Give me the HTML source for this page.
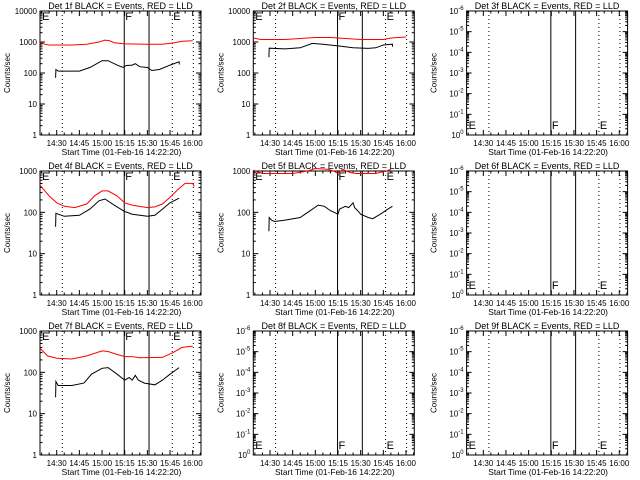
<!DOCTYPE html>
<html><head><meta charset="utf-8"><style>
html,body{margin:0;padding:0;background:#fff}
svg{display:block;font-family:"Liberation Sans",sans-serif}
</style></head><body>
<svg id="c" width="640" height="480"></svg>
<script>
// data: time in minutes after 14:00, values in counts/sec
const p1Red=[[19,1000],[22,850],[25,800],[40,800],[50,850],[58,1000],[62,1150],[65,1100],[68,950],[75,870],[90,850],[100,850],[108,950],[113,1050],[120,1100]];
const p1Black=[[29.3,70],[29.5,130],[31,115],[45,115],[52,150],[60,250],[64,250],[70,180],[74,150],[76,175],[80,180],[82,200],[85,160],[90,150],[93,120],[98,130],[105,180],[111,230],[111.2,190]];
const p2Red=[[19,1350],[24,1200],[40,1200],[50,1300],[60,1400],[70,1400],[80,1300],[90,1200],[105,1200],[110,1350],[120,1450]];
const p2Black=[[29.3,320],[29.5,630],[40,600],[50,650],[58,900],[65,850],[75,750],[85,650],[95,620],[100,650],[105,800],[111,850],[111.2,700]];
const p4Red=[[19,450],[25,250],[30,170],[35,140],[42,130],[50,160],[55,250],[60,330],[64,330],[70,250],[75,170],[80,150],[90,130],[95,135],[100,160],[105,230],[110,350],[115,500],[120,500],[121,420]];
const p4Black=[[29.3,45],[29.5,95],[35,80],[45,85],[52,120],[58,190],[62,210],[68,150],[75,105],[80,90],[85,85],[90,80],[95,85],[100,120],[105,170],[111,220]];
const p5Red=[[19,1050],[22,950],[25,870],[45,870],[55,1000],[60,1150],[68,1100],[72,1000],[75,870],[78,1100],[83,920],[87,870],[100,870],[107,1000],[110,1100]];
const p5Black=[[29.3,35],[29.5,75],[31,65],[33,60],[40,65],[50,75],[55,100],[62,150],[66,140],[70,110],[75,90],[76,120],[80,140],[82,130],[85,170],[86,130],[88,110],[90,90],[95,75],[98,70],[103,90],[108,120],[111,140]];
const p7Red=[[19,380],[24,250],[30,220],[40,210],[50,250],[60,330],[64,320],[70,270],[75,240],[80,240],[85,225],[100,230],[107,300],[113,400],[120,430]];
const p7Black=[[29.3,25],[29.5,60],[31,48],[40,48],[48,55],[53,90],[60,125],[64,130],[70,90],[75,65],[78,75],[80,65],[82,85],[84,65],[88,55],[95,50],[100,65],[105,90],[111,130]];
const timeTicks=[30,45,60,75,90,105,120];
const timeLabels=["14:30","14:45","15:00","15:15","15:30","15:45","16:00"];
const markerTimes=[33.7,74.7,91.1,106.5,120.4];
const markerSolid=[false,true,true,false,false];

const NS="http://www.w3.org/2000/svg";
const svg=document.getElementById('c');
function mk(tag,attrs,parent){const e=document.createElementNS(NS,tag);for(const k in attrs)e.setAttribute(k,attrs[k]);(parent||svg).appendChild(e);return e;}
const T0=18.95,T1=125.5,W=161,H=124;

function panel(col,row,num,decades,red,black){
  const x0=40+col*213.3, y0=11+row*160;
  const g=mk('g',{});
  
  
  const xs=t=>x0+(t-T0)/(T1-T0)*W;
  const blank=!red;
  const ys=v=>y0+H-Math.log10(v)/decades*H;
  const box=mk('rect',{x:x0,y:y0,width:W,height:H,fill:'none',stroke:'#000','stroke-width':1},g);
  
  
  const tt=mk('text',{x:x0+W/2,y:y0-2,'font-size':9,'text-anchor':'middle'},g);
  tt.textContent='Det '+num+'f BLACK = Events, RED = LLD';
  
  
  for(let t=20;t<=125;t+=5){const x=xs(t);const L=(t%15===0)?5:2.5;
    mk('line',{x1:x,x2:x,y1:y0+H,y2:y0+H-L,stroke:'#000'},g);
    mk('line',{x1:x,x2:x,y1:y0,y2:y0+L,stroke:'#000'},g);}
  timeTicks.forEach((t,i)=>{const l=mk('text',{x:xs(t),y:y0+H+11,'font-size':8,'text-anchor':'middle'},g);l.textContent=timeLabels[i];
    
    });
  const xl=mk('text',{x:x0+W/2+1,y:y0+H+20,'font-size':8.4,'text-anchor':'middle'},g);
  xl.textContent='Start Time (01-Feb-16 14:22:20)';
  
  
  const yl=mk('text',{x:0,y:0,'font-size':8,'text-anchor':'middle',transform:`translate(${x0-30},${y0+H/2}) rotate(-90)`},g);
  yl.textContent='Counts/sec';
  
  
  const nd=blank?6:decades;
  const step=H/nd;
  for(let d=0;d<=nd;d++){const y=y0+H-d*step;
    mk('line',{x1:x0,x2:x0+5,y1:y,y2:y,stroke:'#000'},g);
    mk('line',{x1:x0+W,x2:x0+W-5,y1:y,y2:y,stroke:'#000'},g);
    if(d<nd)for(let m=2;m<10;m++){const ym=y-Math.log10(m)*step;
      mk('line',{x1:x0,x2:x0+2.5,y1:ym,y2:ym,stroke:'#000'},g);
      mk('line',{x1:x0+W,x2:x0+W-2.5,y1:ym,y2:ym,stroke:'#000'},g);}
    const lab=mk('text',{x:x0-3,y:y+3,'font-size':8,'text-anchor':'end'},g);
    
    
    if(blank){lab.textContent='10';const s=mk('tspan',{'font-size':6,dy:-4},lab);s.textContent=d===0?'0':'-'+d;}
    else lab.textContent=String(Math.pow(10,d));
  }
  markerTimes.forEach((t,i)=>{const x=xs(t);
    const ln=mk('line',{x1:x,x2:x,y1:y0,y2:y0+H,stroke:'#000','stroke-width':1,'stroke-dasharray':markerSolid[i]?'none':'1,3'},g);
    
    });
  const ly=blank?y0+H-6:y0+9;
  [[x0+2,'E'],[xs(markerTimes[1])+1,'F'],[xs(markerTimes[3])+1,'E']].forEach(([x,s])=>{
    const l=mk('text',{x:x,y:ly,'font-size':11},g);l.textContent=s;
    
    });
  if(!blank){
    const path=(arr)=>arr.map((p,i)=>(i?'L':'M')+xs(p[0]).toFixed(1)+','+ys(p[1]).toFixed(1)).join('');
    const r=mk('path',{d:path(red),fill:'none',stroke:'#f00','stroke-width':1},g);
    
    
    const b=mk('path',{d:path(black),fill:'none',stroke:'#000','stroke-width':1},g);
    
    
  }
}
panel(0,0,1,4,p1Red,p1Black);
panel(1,0,2,4,p2Red,p2Black);
panel(2,0,3,6,null,null);
panel(0,1,4,3,p4Red,p4Black);
panel(1,1,5,3,p5Red,p5Black);
panel(2,1,6,6,null,null);
panel(0,2,7,3,p7Red,p7Black);
panel(1,2,8,6,null,null);
panel(2,2,9,6,null,null);
</script>
</body></html>
